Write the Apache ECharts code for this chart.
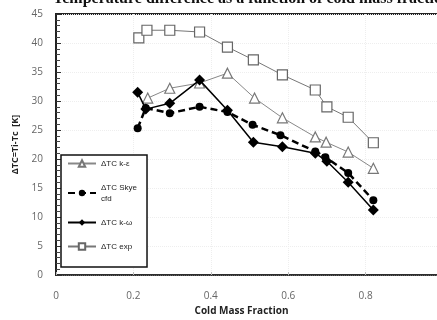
<!DOCTYPE html>
<html><head><meta charset="utf-8">
<script src="https://cdn.jsdelivr.net/npm/echarts@6/dist/echarts.min.js"></script>
<style>html,body{margin:0;padding:0;background:#fff}#c{width:437px;height:320px}</style>
</head><body><div id="c"></div>
<script>
const titleText = "Temperature difference as a function of cold mass fraction";
const xName = "Cold Mass Fraction";
const yName = "ΔTC=Ti-Tc  [K]";
const seriesNames = ["ΔTC k-ε", "ΔTC Skye\ncfd", "ΔTC k-ω", "ΔTC exp"];

const xExp = [0.214, 0.235, 0.294, 0.371, 0.443, 0.51, 0.585, 0.67, 0.70, 0.755, 0.82];
const yExp = [40.9, 42.2, 42.2, 41.9, 39.3, 37.1, 34.5, 31.9, 29.0, 27.2, 22.8];

const xKe = [0.237, 0.294, 0.371, 0.443, 0.513, 0.585, 0.67, 0.698, 0.755, 0.82];
const yKe = [30.5, 32.2, 33.1, 34.8, 30.5, 27.1, 23.8, 22.9, 21.2, 18.4];

const xSkye = [0.211, 0.232, 0.294, 0.371, 0.443, 0.508, 0.58, 0.67, 0.696, 0.755, 0.82];
const ySkye = [25.3, 28.8, 27.9, 29.0, 28.1, 25.9, 24.1, 21.3, 20.3, 17.6, 12.9];

const xKw = [0.211, 0.232, 0.294, 0.371, 0.443, 0.51, 0.585, 0.67, 0.70, 0.755, 0.82];
const yKw = [31.5, 28.6, 29.6, 33.6, 28.4, 22.9, 22.1, 21.0, 19.6, 16.0, 11.2];

const pair = (xs, ys) => xs.map((x, i) => [x, ys[i]]);

const chart = echarts.init(document.getElementById('c'), null, {renderer: 'canvas'});
chart.setOption({
  animation: false,
  backgroundColor: '#fff',
  title: {
    text: titleText, left: 48, top: -14,
    textStyle: {fontFamily: 'Liberation Serif', fontWeight: 'bold', fontSize: 16, color: '#111'}
  },
  grid: {left: 56, top: 14, right: -6, bottom: 45, outerBoundsMode: 'none', containLabel: false,
         show: true, borderColor: '#222', borderWidth: 2, backgroundColor: 'transparent'},
  legend: {
    orient: 'vertical', left: 61, top: 155,
    width: 89,
    padding: [3, 10, 15, 6],
    itemGap: 13,
    itemWidth: 28, itemHeight: 8,
    backgroundColor: '#fff',
    borderColor: '#111', borderWidth: 1.5,
    textStyle: {fontFamily: 'Liberation Sans', fontSize: 8, lineHeight: 11, color: '#222'},
    data: seriesNames
  },
  xAxis: {
    type: 'value', min: 0, max: 1, interval: 0.2,
    name: xName, nameLocation: 'middle', nameGap: 27,
    nameTextStyle: {fontFamily: 'Open Sans', fontWeight: 'bold', fontSize: 10, color: '#222', padding: [0, 16, 0, 0]},
    axisLine: {show: true, lineStyle: {color: '#333', width: 1.5}},
    axisTick: {show: true, inside: true, length: 3, lineStyle: {color: '#bbb'}},
    minorTick: {show: false},
    axisLabel: {margin: 16, fontFamily: 'Open Sans', fontSize: 10, color: '#666', showMaxLabel: false, formatter: v => String(+v.toFixed(1))},
    splitLine: {show: true, lineStyle: {color: '#eee', type: 'dotted'}}
  },
  yAxis: {
    type: 'value', min: 0, max: 45, interval: 5,
    name: yName, nameLocation: 'middle', nameGap: 36,
    nameTextStyle: {fontFamily: 'Open Sans', fontWeight: 'bold', fontSize: 9, color: '#222'},
    axisLine: {show: true, lineStyle: {color: '#222', width: 2}},
    axisTick: {show: true, inside: true, length: 5, lineStyle: {color: '#333'}},
    minorTick: {show: true, splitNumber: 5, length: 4, lineStyle: {color: '#444'}},
    axisLabel: {margin: 13, fontFamily: 'Open Sans', fontSize: 10, color: '#666'},
    splitLine: {show: true, lineStyle: {color: '#eee', type: 'dotted'}}
  },
  series: [
    {
      name: seriesNames[3], type: 'line', data: pair(xExp, yExp), z: 2,
      symbol: 'rect', symbolSize: 10,
      lineStyle: {color: '#777', width: 1},
      itemStyle: {color: '#fff', borderColor: '#666', borderWidth: 1.2}
    },
    {
      name: seriesNames[0], type: 'line', data: pair(xKe, yKe), z: 3,
      symbol: 'triangle', symbolSize: 10,
      lineStyle: {color: '#888', width: 1},
      itemStyle: {color: '#fff', borderColor: '#777', borderWidth: 1.2}
    },
    {
      name: seriesNames[1], type: 'line', data: pair(xSkye, ySkye), z: 4,
      symbol: 'circle', symbolSize: 8,
      lineStyle: {color: '#000', width: 2.5, type: [7, 4]},
      itemStyle: {color: '#000'}
    },
    {
      name: seriesNames[2], type: 'line', data: pair(xKw, yKw), z: 5,
      symbol: 'diamond', symbolSize: 11,
      lineStyle: {color: '#000', width: 1.5},
      itemStyle: {color: '#000'}
    }
  ]
});
</script></body></html>
